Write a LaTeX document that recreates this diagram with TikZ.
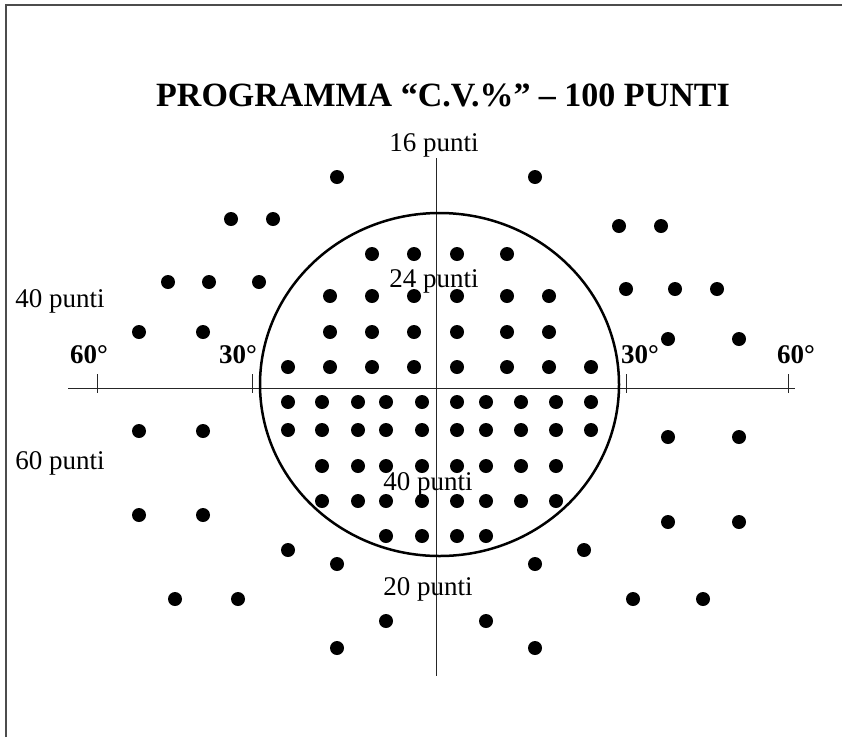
\documentclass[tikz,border=0pt]{standalone}
\usepackage{fontspec}
\setmainfont{Liberation Serif}
\begin{document}
\begin{tikzpicture}[x=1pt,y=-1pt,
  lbl/.style={inner sep=0pt,anchor=base,font=\fontsize{27}{30}\selectfont},
  deg/.style={lbl,font=\fontsize{27}{30}\selectfont\bfseries},
  axis/.style={line width=1pt,black!85},
  spot/.style={fill=black}]
\useasboundingbox (0,0) rectangle (842,737);
\fill[white] (0,0) rectangle (842,737);

% frame (top and left edges)
\draw[line width=2pt,black!70] (6,737) -- (6,5) -- (842,5);

% title
\node[inner sep=0pt,anchor=base,font=\fontsize{34}{38}\selectfont\bfseries] (title) at (443,106)
  {PROGRAMMA “C.V.\%” – 100 PUNTI};

% axes with tick marks
\coordinate (xl) at (68,388);  \coordinate (xr) at (795,388);
\coordinate (yt) at (436,158); \coordinate (yb) at (436,676);
\draw[axis] (xl) -- (xr);
\draw[axis] (yt) -- (yb);
\foreach \tx in {97,252,626,788}
  \draw[axis] (\tx,374) -- (\tx,393);

% 30 degree boundary
\draw[line width=2.5pt] (439.5,384.5) ellipse [x radius=179.5, y radius=171.5];

% upper central field (24)
\foreach \px/\py in {372/254,414/254,457/254,507/254,
  330/296,372/296,414/296,457/296,507/296,549/296,
  330/332,372/332,414/332,457/332,507/332,549/332,
  288/367,330/367,372/367,414/367,457/367,507/367,549/367,591/367}
  \fill[spot] (\px,\py) circle[radius=7];

% lower central field (40)
\foreach \py in {402,430}
  \foreach \px in {288,322,358,386,422,457,486,521,556,591}
    \fill[spot] (\px,\py) circle[radius=7];
\foreach \py in {466,501}
  \foreach \px in {322,358,386,422,457,486,521,556}
    \fill[spot] (\px,\py) circle[radius=7];
\foreach \px in {386,422,457,486}
  \fill[spot] (\px,536) circle[radius=7];

% upper peripheral field (16)
\foreach \px/\py in {337/177,535/177,
  231/219,273/219,619/226,661/226,
  168/282,209/282,259/282,626/289,675/289,717/289,
  139/332,203/332,668/339,739/339}
  \fill[spot] (\px,\py) circle[radius=7];

% lower peripheral field (20)
\foreach \px/\py in {139/431,203/431,668/437,739/437,
  139/515,203/515,668/522,739/522,
  288/550,337/564,584/550,535/564,
  175/599,238/599,633/599,703/599,
  386/621,486/621,337/648,535/648}
  \fill[spot] (\px,\py) circle[radius=7];

% labels
\node[lbl] (l16) at (434,151) {16 punti};
\node[lbl] (l24) at (434,287) {24 punti};
\node[lbl] (l40a) at (60,307) {40 punti};
\node[lbl] (l60) at (60,469) {60 punti};
\node[lbl] (l40b) at (428,490) {40 punti};
\node[lbl] (l20) at (428,595) {20 punti};

\node[deg] (d60l) at (89,363) {60°};
\node[deg] (d30l) at (238,363) {30°};
\node[deg] (d30r) at (640,363) {30°};
\node[deg] (d60r) at (796,363) {60°};
\end{tikzpicture}
\end{document}
